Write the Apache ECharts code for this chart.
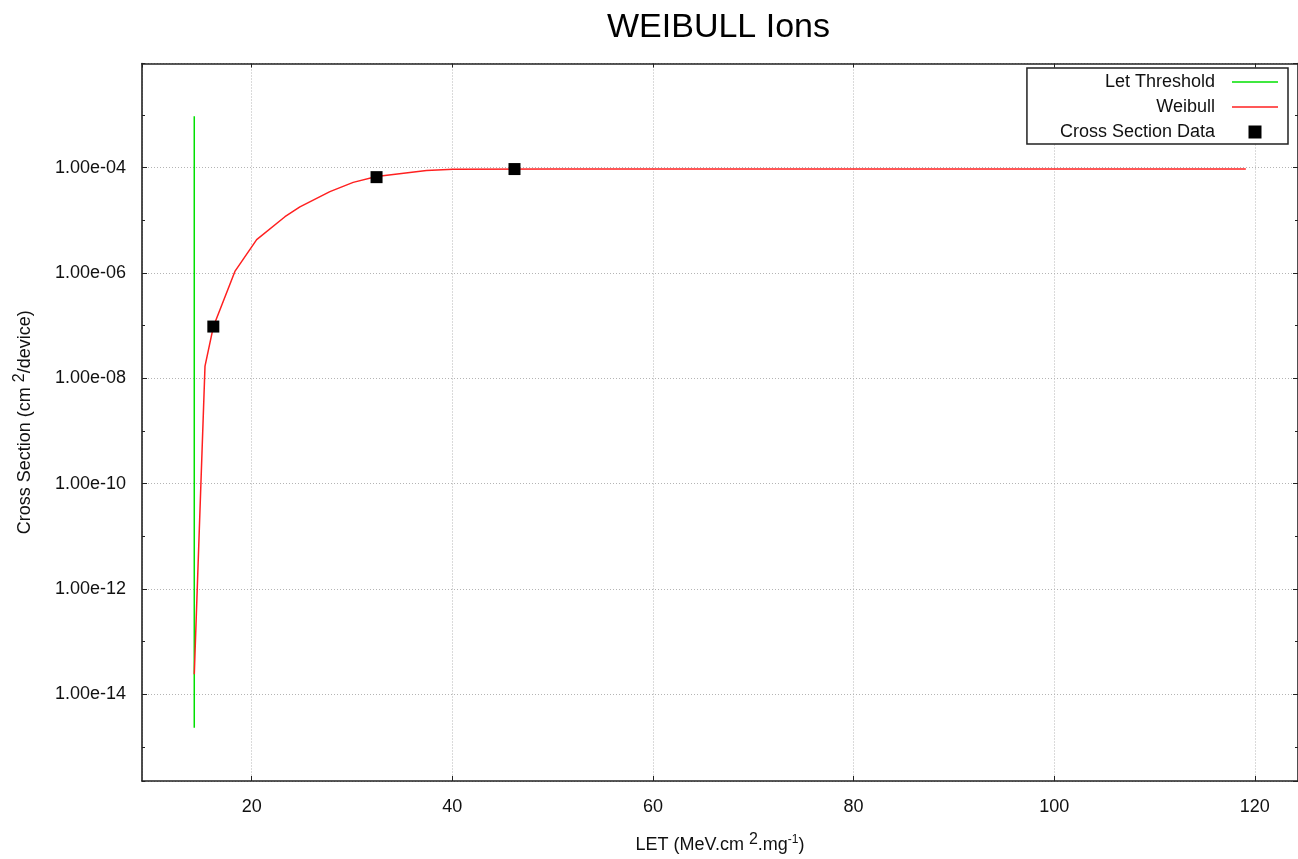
<!DOCTYPE html>
<html>
<head>
<meta charset="utf-8">
<script src="https://cdn.jsdelivr.net/npm/echarts@6/dist/echarts.min.js"></script>
<style>
html,body{margin:0;padding:0;background:#fff;}
#chart{width:1298px;height:859px;}
</style>
</head>
<body>
<div id="chart"></div>
<script>
// ---- data ----
const thresholdLET = [14.28, 14.28];
const thresholdXS = [2.3e-15, 9.5e-4];
const weibullLET = [14.28, 15.35, 16.18, 18.33, 20.5, 23.32, 24.81, 27.8, 30.12, 32.45, 37.43, 40.08, 50, 60, 70, 80, 90, 100, 110, 119.1];
const weibullXS  = [2.4e-14, 1.7e-8, 9.5e-8, 1.07e-6, 4.3e-6, 1.17e-5, 1.8e-5, 3.5e-5, 5.25e-5, 6.8e-5, 8.8e-5, 9.3e-5, 9.4e-5, 9.4e-5, 9.4e-5, 9.4e-5, 9.4e-5, 9.4e-5, 9.4e-5, 9.4e-5];
const dataLET = [16.18, 32.45, 46.2];
const dataXS  = [9.6e-8, 6.6e-5, 9.4e-5];
const xRange = [9.07, 124.3];
const yRange = [2.25e-16, 9.5e-3];
const seriesNames = ['Let Threshold', 'Weibull', 'Cross Section Data'];

const FONT = 'Liberation Sans, Arial, sans-serif';
const lg = Math.log10;
const pairs = (xs, ys) => xs.map((x, i) => [x, lg(ys[i])]);
const fmt = v => {
  const e = Math.round(v);
  const a = Math.abs(e);
  return '1.00e' + (e < 0 ? '-' : '+') + (a < 10 ? '0' + a : '' + a);
};

const chart = echarts.init(document.getElementById('chart'));
const frame = {show: true, lineStyle: {color: '#222', width: 1.6}};
const grid = {type: [1, 2], color: '#b4b4b4', width: 1};
const supRich = {
  s2: {fontSize: 16, padding: [0, 0, 10, 0], fontFamily: FONT, color: '#111'},
  s1: {fontSize: 12, padding: [0, 0, 10, 0], fontFamily: FONT, color: '#111'}
};
const yMin = lg(yRange[0]), yMax = lg(yRange[1]);
const lineIcon = 'path://M0,0H46V1.5H0Z';

chart.setOption({
  animation: false,
  backgroundColor: '#fff',
  title: {
    text: 'WEIBULL Ions', left: 602, top: 6,
    textStyle: {fontFamily: FONT, fontSize: 34, fontWeight: 'normal', color: '#000'}
  },
  grid: {left: 142, top: 63.5, right: -1, bottom: 75.5, containLabel: false},
  legend: {
    orient: 'vertical', right: 10, top: 68, align: 'right',
    backgroundColor: '#fff', borderColor: '#222', borderWidth: 1.5,
    padding: [5, 10, 3, 33], itemGap: 7, itemWidth: 46, itemHeight: 13,
    symbolKeepAspect: true,
    textStyle: {fontFamily: FONT, fontSize: 18, color: '#111', padding: [0, 12, 0, 0]},
    data: [
      {name: seriesNames[0], icon: lineIcon},
      {name: seriesNames[1], icon: lineIcon},
      {name: seriesNames[2], icon: 'path://M0,0H10V10H0Z'}
    ]
  },
  xAxis: [
    {
      type: 'value', position: 'bottom', min: xRange[0], max: xRange[1], splitNumber: 5,
      axisLine: frame,
      axisTick: {show: true, inside: true, length: 5, lineStyle: {color: '#222'}},
      axisLabel: {fontFamily: FONT, fontSize: 18, color: '#111', margin: 17, showMinLabel: false, showMaxLabel: false},
      splitLine: {show: true, lineStyle: grid},
      name: 'LET (MeV.cm {s2|2}.mg{s1|-1})', nameLocation: 'middle', nameGap: 51,
      nameTextStyle: {fontFamily: FONT, fontSize: 18, color: '#111', rich: supRich}
    },
    {
      type: 'value', position: 'top', min: xRange[0], max: xRange[1], splitNumber: 5,
      axisLine: frame,
      axisTick: {show: true, inside: true, length: 4, lineStyle: {color: '#222'}},
      axisLabel: {show: false}, splitLine: {show: false}
    }
  ],
  yAxis: [
    {
      type: 'value', position: 'left', min: yMin, max: yMax, splitNumber: 7,
      axisLine: frame,
      axisTick: {show: true, inside: true, length: 5, lineStyle: {color: '#222'}},
      axisLabel: {fontFamily: FONT, fontSize: 18, color: '#111', margin: 16, formatter: fmt, showMinLabel: false, showMaxLabel: false},
      splitLine: {show: true, lineStyle: grid},
      name: 'Cross Section (cm {s2|2}/device)', nameLocation: 'middle', nameGap: 104, nameRotate: 90,
      nameTextStyle: {fontFamily: FONT, fontSize: 18, color: '#111', rich: supRich}
    },
    {
      type: 'value', position: 'left', min: yMin, max: yMax, splitNumber: 14,
      axisLine: {show: false},
      axisTick: {show: true, inside: true, length: 3, lineStyle: {color: '#222'}},
      axisLabel: {show: false}, splitLine: {show: false}
    },
    {
      type: 'value', position: 'right', min: yMin, max: yMax, splitNumber: 7,
      axisLine: frame,
      axisTick: {show: true, inside: true, length: 5, lineStyle: {color: '#222'}},
      axisLabel: {show: false}, splitLine: {show: false}
    },
    {
      type: 'value', position: 'right', min: yMin, max: yMax, splitNumber: 14,
      axisLine: {show: false},
      axisTick: {show: true, inside: true, length: 3, lineStyle: {color: '#222'}},
      axisLabel: {show: false}, splitLine: {show: false}
    }
  ],
  series: [
    {
      name: seriesNames[0], type: 'line', xAxisIndex: 0, yAxisIndex: 0,
      data: pairs(thresholdLET, thresholdXS), showSymbol: false, symbol: 'none',
      lineStyle: {color: '#00e000', width: 1.5}, itemStyle: {color: '#00e000'}, z: 2
    },
    {
      name: seriesNames[1], type: 'line', xAxisIndex: 0, yAxisIndex: 0,
      data: pairs(weibullLET, weibullXS), showSymbol: false, symbol: 'none',
      lineStyle: {color: '#ff2020', width: 1.5}, itemStyle: {color: '#ff2020'}, z: 3
    },
    {
      name: seriesNames[2], type: 'scatter', xAxisIndex: 0, yAxisIndex: 0,
      data: pairs(dataLET, dataXS), symbol: 'rect', symbolSize: 12,
      itemStyle: {color: '#000', opacity: 1}, z: 4
    }
  ]
});
</script>
</body>
</html>
